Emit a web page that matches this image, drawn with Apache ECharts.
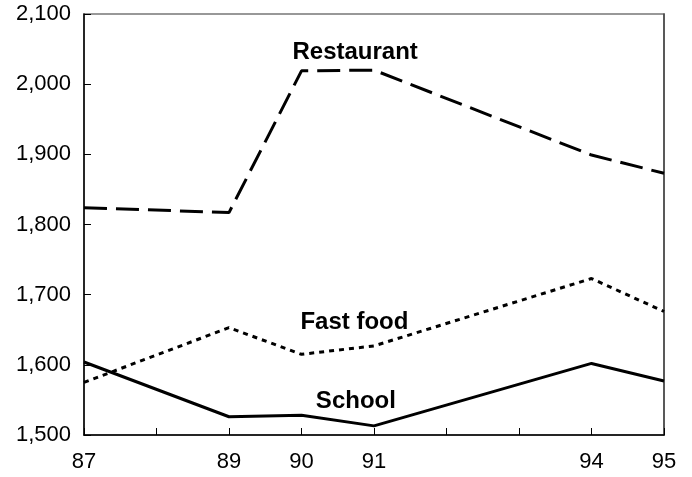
<!DOCTYPE html>
<html>
<head>
<meta charset="utf-8">
<script src="https://cdn.jsdelivr.net/npm/echarts@6/dist/echarts.min.js"></script>
<style>html,body{margin:0;padding:0;background:#fff}#c{width:692px;height:477px}</style>
</head>
<body>
<div id="c"></div>
<script>
var years = [87, 89, 90, 91, 94, 95];
var restaurant = [1824, 1817, 2019, 2020, 1899, 1873];
var fastFood = [1575, 1653, 1615, 1627, 1723, 1676];
var school = [1604, 1526, 1528, 1513, 1602, 1577];
var xLabels = [87, 89, 90, 91, 94, 95];
var seriesNames = ['Restaurant', 'Fast food', 'School'];
var labelPos = [[90.74, 2045], [90.73, 1660], [90.75, 1548]];

function pairs(vals) { return years.map(function (y, i) { return [y, vals[i]]; }); }
var font = '"Liberation Sans", Arial, sans-serif';

function labelPoint(i) {
  return {
    symbol: 'circle', symbolSize: 0, silent: true,
    label: { show: true, position: 'inside', formatter: seriesNames[i], color: '#000',
      fontFamily: font, fontWeight: 'bold', fontSize: 24 },
    data: [{ coord: labelPos[i] }]
  };
}

var chart = echarts.init(document.getElementById('c'));
chart.setOption({
  animation: false,
  grid: { left: 84, right: 28, top: 14, bottom: 42, show: true, borderColor: '#777', borderWidth: 1.5 },
  xAxis: {
    type: 'value', min: 87, max: 95, interval: 1,
    axisLine: { lineStyle: { color: '#000', width: 1.5 } },
    axisTick: { inside: true, length: 7, lineStyle: { color: '#000' } },
    splitLine: { show: false },
    axisLabel: { color: '#000', fontFamily: font, fontSize: 22, margin: 16,
      formatter: function (v) { return xLabels.indexOf(v) >= 0 ? String(v) : ''; } }
  },
  yAxis: [{
    type: 'value', min: 1500, max: 2100, interval: 100,
    axisLine: { show: true, lineStyle: { color: '#000', width: 1.5 } },
    axisTick: { show: true, inside: true, length: 7, lineStyle: { color: '#000' } },
    splitLine: { show: false },
    axisLabel: { color: '#000', fontFamily: font, fontSize: 22, margin: 13,
      formatter: function (v) { return v.toLocaleString('en-US'); } }
  }, {
    type: 'value', min: 1500, max: 2100, interval: 100, position: 'right',
    axisLine: { show: true, lineStyle: { color: '#444', width: 1.5 } },
    axisTick: { show: false }, axisLabel: { show: false }, splitLine: { show: false }
  }],
  series: [
    { name: seriesNames[0], type: 'line', data: pairs(restaurant), symbol: 'none',
      lineStyle: { color: '#000', width: 3, type: [23, 9] }, markPoint: labelPoint(0) },
    { name: seriesNames[1], type: 'line', data: pairs(fastFood), symbol: 'none',
      lineStyle: { color: '#000', width: 3, type: [5, 5] }, markPoint: labelPoint(1) },
    { name: seriesNames[2], type: 'line', data: pairs(school), symbol: 'none',
      lineStyle: { color: '#000', width: 3 }, markPoint: labelPoint(2) }
  ]
});
</script>
</body>
</html>
